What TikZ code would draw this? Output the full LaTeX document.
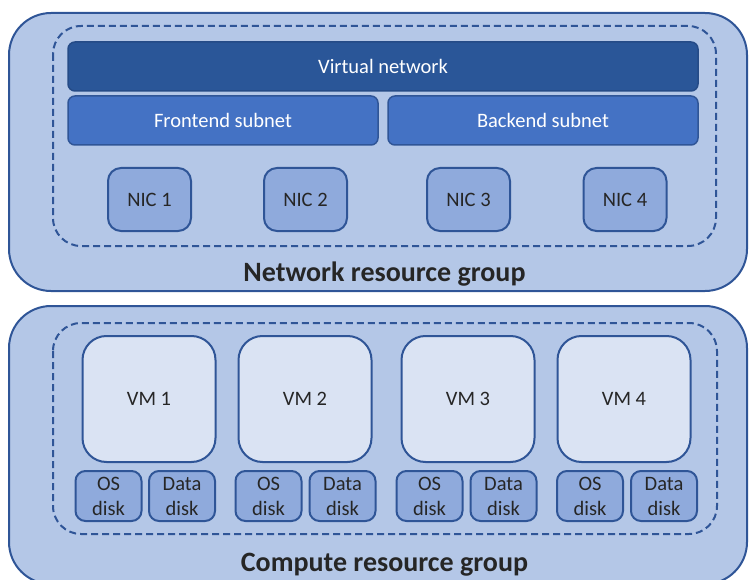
\documentclass[tikz,border=0pt]{standalone}
\usepackage{fontspec}
\setmainfont{Carlito}

\definecolor{groupfill}{RGB}{180,199,231}
\definecolor{boxline}{RGB}{47,85,151}
\definecolor{vnetfill}{RGB}{42,86,152}
\definecolor{vnetline}{RGB}{37,75,135}
\definecolor{subnetfill}{RGB}{68,114,196}
\definecolor{nicfill}{RGB}{143,170,220}
\definecolor{vmfill}{RGB}{218,227,243}
\definecolor{textgray}{RGB}{38,38,38}

\begin{document}
\begin{tikzpicture}[x=1pt, y=-1pt, font=\fontsize{20.5}{25}\selectfont,
	group/.style={draw=boxline, fill=groupfill, line width=2pt, rounded corners=42pt},
	inner/.style={draw=boxline, line width=2pt, dash pattern=on 7pt off 4pt, rounded corners=28pt},
	vnetbox/.style={draw=vnetline, fill=vnetfill, line width=1.5pt, rounded corners=7pt, inner sep=0pt, text=white},
	subnetbox/.style={draw=boxline, fill=subnetfill, line width=1.5pt, rounded corners=7pt, inner sep=0pt, text=white, minimum width=310pt, minimum height=49pt},
	nicbox/.style={draw=boxline, fill=nicfill, line width=2pt, rounded corners=13pt, inner sep=0pt, text=textgray, minimum width=83pt, minimum height=63pt},
	vmbox/.style={draw=boxline, fill=vmfill, line width=2pt, rounded corners=24pt, inner sep=0pt, text=textgray, minimum width=133pt, minimum height=126pt},
	diskbox/.style={draw=boxline, fill=nicfill, line width=2pt, rounded corners=10pt, inner sep=0pt, text=textgray, align=center, minimum width=66pt, minimum height=50pt},
	grouplabel/.style={anchor=base, text=textgray, font=\fontsize{28}{32}\selectfont\bfseries}]
	\useasboundingbox (0,0) rectangle (749,580);

    \draw [group] (9,13) rectangle (747,291);
    \draw [group] (9,306) rectangle (747,584);
    \draw [inner] (53,26) rectangle (716,246);
    \draw [inner] (53,323) rectangle (717,534);

    \node [vnetbox, minimum width=630pt, minimum height=49pt] (vnet) at (383,66.5) {Virtual network};
    \node [subnetbox] (frontend) at (223,120.5) {Frontend subnet};
    \node [subnetbox] (backend) at (543,120.5) {Backend subnet};

    \node [nicbox] (nic1) at (149.5,199.5) {NIC 1};
    \node [nicbox] (nic2) at (305.5,199.5) {NIC 2};
    \node [nicbox] (nic3) at (468.5,199.5) {NIC 3};
    \node [nicbox] (nic4) at (625,199.5) {NIC 4};

    \node [grouplabel] (netlabel) at (384.5,281) {Network resource group};

    \node [vmbox] (vm1) at (149,399) {VM 1};
    \node [vmbox] (vm2) at (305,399) {VM 2};
    \node [vmbox] (vm3) at (468,399) {VM 3};
    \node [vmbox] (vm4) at (624,399) {VM 4};

    \node [diskbox] (os1) at (108.5,496) {OS\\disk};
    \node [diskbox] (data1) at (182,496) {Data\\disk};
    \node [diskbox] (os2) at (268.5,496) {OS\\disk};
    \node [diskbox] (data2) at (342.5,496) {Data\\disk};
    \node [diskbox] (os3) at (429.5,496) {OS\\disk};
    \node [diskbox] (data3) at (503.5,496) {Data\\disk};
    \node [diskbox] (os4) at (590,496) {OS\\disk};
    \node [diskbox] (data4) at (664,496) {Data\\disk};

    \node [grouplabel] (computelabel) at (384.5,571) {Compute resource group};
\end{tikzpicture}
\end{document}
